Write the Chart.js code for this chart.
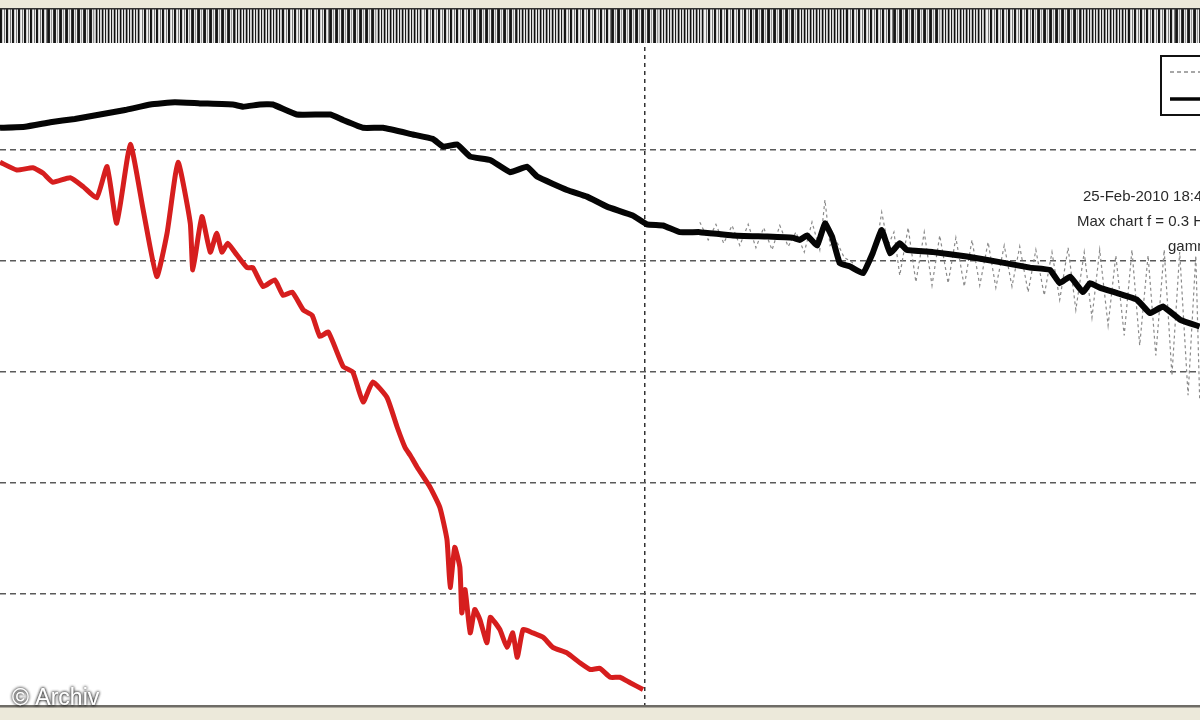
<!DOCTYPE html>
<html>
<head>
<meta charset="utf-8">
<script src="https://cdn.jsdelivr.net/npm/chart.js@4/dist/chart.umd.min.js"></script>
<style>
html,body{margin:0;padding:0;background:#ece9da;overflow:hidden;}
#wrap{position:absolute;left:0;top:0;width:1200px;height:720px;}
</style>
</head>
<body>
<div id="wrap"><canvas id="c" width="1200" height="720"></canvas></div>
<script>
// ---- data (x: frequency units, gridline at 100; y: level in dB) ----
const blackX = [0,3.9,7.8,11.6,15.5,19.4,23.3,27.1,31.0,36.1,37.7,40.3,42.3,46.0,51.2,53.2,56.3,59.4,64.0,67.1,68.7,70.9,72.9,76.0,79.1,81.7,83.3,87.9,91.0,94.1,98.1,100.3,102.8,105.4,108.5,113.6,118.9,122.9,124.0,125.1,126.7,127.9,129.0,130.2,131.8,133.8,135.3,136.7,138.0,139.5,140.6,144.7,149.9,155.0,159.7,162.8,164.3,165.9,167.9,169.0,170.5,173.2,176.3,178.3,180.3,183.0,186.0];
const blackY = [-8.0,-7.9,-7.5,-7.2,-6.8,-6.4,-5.9,-5.7,-5.8,-5.9,-6.1,-5.9,-5.9,-6.8,-6.8,-7.3,-8.0,-8.0,-8.6,-9.0,-9.7,-9.5,-10.6,-10.9,-12.0,-11.5,-12.4,-13.6,-14.2,-15.1,-15.9,-16.7,-16.8,-17.4,-17.4,-17.7,-17.8,-17.9,-18.1,-17.7,-18.6,-16.6,-17.8,-20.2,-20.5,-21.1,-19.3,-17.2,-19.3,-18.4,-19.0,-19.2,-19.6,-20.1,-20.6,-20.8,-22.0,-21.4,-22.8,-22.0,-22.4,-22.9,-23.5,-24.7,-24.1,-25.3,-25.9];

const redX = [0,2.6,5.1,6.7,8.2,10.9,12.9,15.0,16.6,18.1,20.2,22.2,24.3,25.9,27.6,29.5,29.9,31.3,32.6,33.6,34.4,35.3,36.4,38.3,39.2,40.8,42.6,43.9,45.3,47.0,48.4,49.6,50.9,53.2,54.7,56.3,57.8,60.0,61.6,62.8,63.6,64.7,66.7,68.2,69.3,69.8,70.5,71.3,71.6,72.1,72.9,73.6,74.4,75.5,76.0,77.5,78.6,79.5,80.2,81.1,82.6,84.2,85.7,87.9,89.9,91.5,93.0,94.6,96.1,97.7,99.7];
const redY = [-11.1,-11.8,-11.6,-12.1,-12.9,-12.5,-13.3,-14.3,-11.5,-16.6,-9.5,-15.4,-21.4,-17.5,-11.1,-16.6,-20.8,-16.0,-19.2,-17.5,-19.2,-18.4,-19.2,-20.6,-20.6,-22.3,-21.7,-23.1,-22.8,-24.4,-24.9,-26.8,-26.4,-29.5,-30.0,-32.7,-30.9,-32.3,-35.0,-36.8,-37.5,-38.6,-40.4,-42.2,-45.1,-49.4,-45.8,-47.6,-51.7,-49.6,-53.5,-51.4,-52.3,-54.4,-52.1,-53.2,-54.8,-53.5,-55.7,-53.2,-53.5,-53.9,-54.8,-55.3,-56.2,-56.8,-56.7,-57.5,-57.5,-58.0,-58.6];

const grayX = [108.5,109.8,111.0,112.2,113.5,114.7,116.0,117.2,118.4,119.7,120.9,122.2,123.4,124.7,125.9,127.1,127.9,128.7,129.6,130.9,132.1,133.3,134.6,135.8,136.7,137.7,138.6,139.5,140.8,142.0,143.3,144.5,145.7,147.0,148.2,149.5,150.7,151.9,153.2,154.4,155.7,156.9,158.1,159.4,160.6,161.9,163.1,164.3,165.6,166.8,168.1,169.3,170.5,171.8,173.0,174.3,175.5,176.7,178.0,179.2,180.5,181.7,182.9,184.2,185.4,186.0];
const grayY = [-16.5,-18.1,-16.7,-18.4,-16.8,-18.6,-16.7,-18.8,-17.0,-19.0,-16.8,-18.7,-17.4,-19.2,-16.5,-19.0,-14.5,-18.6,-18.1,-19.7,-20.1,-21.3,-20.1,-19.0,-15.6,-18.6,-17.4,-21.3,-17.0,-21.9,-17.4,-22.2,-17.7,-22.0,-17.9,-22.3,-18.1,-22.2,-18.3,-22.4,-18.6,-22.3,-18.7,-22.8,-19.0,-23.1,-19.2,-23.5,-18.8,-24.4,-19.2,-25.1,-19.0,-25.8,-19.5,-26.7,-19.0,-27.6,-19.5,-28.5,-19.0,-30.3,-19.2,-32.1,-19.5,-32.5];

const seriesLabels = ['gamma', 'Response', 'Reference'];
const infoLines = ['25-Feb-2010 18:42', 'Max chart f = 0.3 Hz', 'gamma'];
const watermark = '\u00A9 Archiv';

const toPts = (xs, ys) => xs.map((x, i) => ({x: x, y: ys[i]}));

const decor = {
  id: 'decor',
  beforeDraw(chart) {
    const ctx = chart.ctx, a = chart.chartArea;
    ctx.save();
    ctx.fillStyle = '#ece9da';
    ctx.fillRect(0, 0, chart.width, chart.height);
    ctx.fillStyle = '#ffffff';
    ctx.fillRect(a.left, a.top, a.right - a.left, a.bottom - a.top);
    ctx.restore();
  },
  afterDatasetsDraw(chart) {
    const ctx = chart.ctx, a = chart.chartArea;
    ctx.save();
    // striped band at top
    ctx.fillStyle = '#f0f0ee';
    ctx.fillRect(0, 9, chart.width, 34);
    const pat = [
      ['#111','#1a1a1a','#cfcfcf','#f2f2f2','#7a7a7a','#e6e6e6'],
      ['#151515','#222','#e8e8e8','#9a9a9a','#f0f0f0','#333'],
      ['#101010','#8c8c8c','#efefef','#1c1c1c','#d8d8d8','#bdbdbd']
    ];
    for (let x = 0; x < chart.width; x++) {
      const p = pat[Math.floor(x / 47) % 3];
      ctx.fillStyle = p[x % 6];
      ctx.fillRect(x, 9, 1, 34);
    }
    ctx.fillStyle = '#333';
    ctx.fillRect(0, 8, chart.width, 1.5);
    // bottom frame line
    ctx.fillStyle = '#6e6c66';
    ctx.fillRect(0, a.bottom, chart.width, 2.5);
    // legend box (partly off-canvas)
    ctx.fillStyle = '#fff';
    ctx.fillRect(1161, 56, 70, 59);
    ctx.strokeStyle = '#111';
    ctx.lineWidth = 2;
    ctx.strokeRect(1161, 56, 70, 59);
    const ds = chart.data.datasets;
    ctx.lineWidth = 1.5;
    ctx.strokeStyle = ds[2].borderColor;
    ctx.setLineDash([4, 3]);
    ctx.beginPath(); ctx.moveTo(1170, 72); ctx.lineTo(1230, 72); ctx.stroke();
    ctx.setLineDash([]);
    ctx.lineWidth = 3.5;
    ctx.strokeStyle = ds[0].borderColor;
    ctx.beginPath(); ctx.moveTo(1170, 99); ctx.lineTo(1230, 99); ctx.stroke();
    ctx.fillStyle = '#222';
    ctx.font = '14px "Liberation Sans", Arial, sans-serif';
    ctx.textBaseline = 'middle';
    ctx.fillText(ds[2].label, 1210, 72);
    ctx.fillText(ds[0].label, 1210, 99);
    // annotation text
    ctx.font = '15px "Liberation Sans", Arial, sans-serif';
    ctx.fillStyle = '#2a2a2a';
    ctx.fillText(infoLines[0], 1083, 197);
    ctx.fillText(infoLines[1], 1077, 222);
    ctx.fillText(infoLines[2], 1168, 247);
    // watermark
    ctx.font = '23px "Liberation Sans", Arial, sans-serif';
    ctx.textBaseline = 'alphabetic';
    ctx.shadowColor = 'rgba(0,0,0,0.85)';
    ctx.shadowBlur = 3;
    ctx.fillStyle = '#ffffff';
    ctx.fillText(watermark, 12, 705);
    ctx.fillText(watermark, 12, 705);
    ctx.restore();
  }
};

new Chart(document.getElementById('c'), {
  type: 'line',
  data: {
    datasets: [
      { label: seriesLabels[1], data: toPts(blackX, blackY), borderColor: '#050505', borderWidth: 6, pointRadius: 0, tension: 0.1, order: 0 },
      { label: seriesLabels[2], data: toPts(redX, redY), borderColor: '#d61e1e', borderWidth: 5, pointRadius: 0, tension: 0.15, order: 1 },
      { label: seriesLabels[0], data: toPts(grayX, grayY), borderColor: '#8a8a8a', borderWidth: 1.2, borderDash: [3, 3], pointRadius: 0, tension: 0, order: 2 }
    ]
  },
  options: {
    responsive: false,
    animation: false,
    events: [],
    layout: { padding: { top: 39, bottom: 15, left: 0, right: 0 } },
    plugins: { legend: { display: false }, tooltip: { enabled: false } },
    scales: {
      x: {
        type: 'linear', min: 0, max: 186.05,
        ticks: { display: false, stepSize: 100 },
        grid: { drawTicks: false, lineWidth: 1.5, color: c => c.tick && c.tick.value === 100 ? '#333' : 'rgba(0,0,0,0)' },
        border: { display: false, dash: [4, 4] },
        afterFit: s => { s.height = 0; }
      },
      y: {
        type: 'linear', min: -60, max: 0,
        ticks: { display: false, stepSize: 10 },
        grid: { drawTicks: false, lineWidth: 1.5, color: c => (c.tick && (c.tick.value === 0 || c.tick.value === -60)) ? 'rgba(0,0,0,0)' : '#5a5a5a' },
        border: { display: false, dash: [6, 4] },
        afterFit: s => { s.width = 0; }
      }
    }
  },
  plugins: [decor]
});
</script>
</body>
</html>
